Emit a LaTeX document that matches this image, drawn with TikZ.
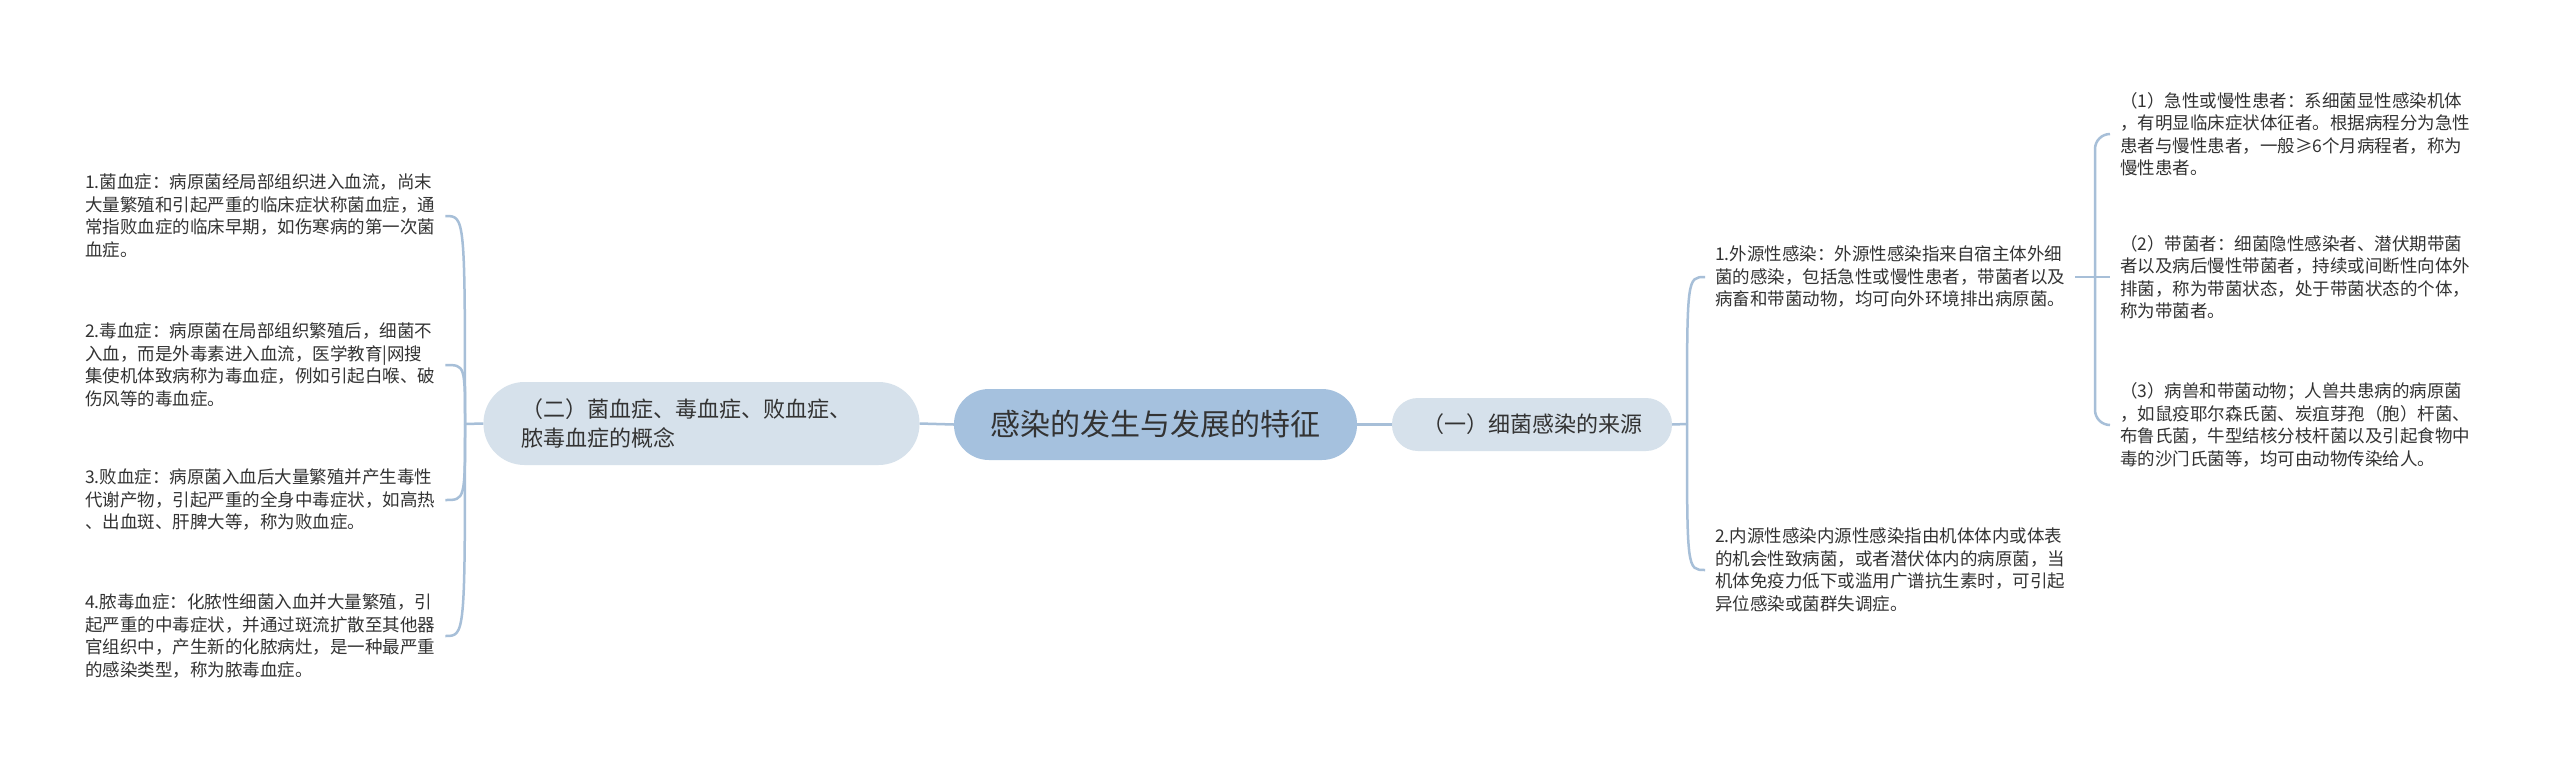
\documentclass[tikz,border=0pt]{standalone}
\usepackage{fontspec}
\newfontfamily\cjk{Noto Sans CJK SC}
\definecolor{linec}{HTML}{A7BFD8}
\definecolor{rootc}{HTML}{A5C1DE}
\definecolor{subc}{HTML}{D6E1EB}
\definecolor{txtc}{HTML}{333333}
\begin{document}
\begin{tikzpicture}[x=1pt,y=-1pt,
  rootbox/.style={rectangle, rounded corners=35pt, fill=rootc, minimum width=403pt, minimum height=71pt, text=txtc, font=\cjk\fontsize{30}{36}\selectfont, inner sep=0pt},
  lvone/.style={rectangle, fill=subc, text=txtc, font=\cjk\fontsize{22}{29}\selectfont, inner sep=0pt},
  leaf/.style={align=left, text=txtc, font=\cjk\fontsize{17.5}{22.5}\selectfont, inner xsep=10pt, inner ysep=0pt, anchor=west},
  conn/.style={draw=linec, line width=2.5pt}
]
\useasboundingbox (0,0) rectangle (2560,764);
\fill[white] (0,0) rectangle (2560,764);

\node[rootbox] (root) at (1155.5,424.5) {感染的发生与发展的特征};
\node[lvone, rounded corners=41pt, minimum width=436pt, minimum height=83pt, align=left, text width=360pt] (L) at (701.5,423.5) {（二）菌血症、毒血症、败血症、\\脓毒血症的概念};
\node[lvone, rounded corners=26pt, minimum width=280pt, minimum height=53pt] (R) at (1532,424.5) {（一）细菌感染的来源};

\node[leaf] (l1) at (75,216) {1.菌血症：病原菌经局部组织进入血流，尚末\\大量繁殖和引起严重的临床症状称菌血症，通\\常指败血症的临床早期，如伤寒病的第一次菌\\血症。};
\node[leaf] (l2) at (75,365) {2.毒血症：病原菌在局部组织繁殖后，细菌不\\入血，而是外毒素进入血流，医学教育|网搜\\集使机体致病称为毒血症，例如引起白喉、破\\伤风等的毒血症。};
\node[leaf] (l3) at (75,500) {3.败血症：病原菌入血后大量繁殖并产生毒性\\代谢产物，引起严重的全身中毒症状，如高热\\、出血斑、肝脾大等，称为败血症。};
\node[leaf] (l4) at (75,636) {4.脓毒血症：化脓性细菌入血并大量繁殖，引\\起严重的中毒症状，并通过斑流扩散至其他器\\官组织中，产生新的化脓病灶，是一种最严重\\的感染类型，称为脓毒血症。};

\node[leaf] (r1) at (1705,277) {1.外源性感染：外源性感染指来自宿主体外细\\菌的感染，包括急性或慢性患者，带菌者以及\\病畜和带菌动物，均可向外环境排出病原菌。};
\node[leaf] (r2) at (1705,570) {2.内源性感染内源性感染指由机体体内或体表\\的机会性致病菌，或者潜伏体内的病原菌，当\\机体免疫力低下或滥用广谱抗生素时，可引起\\异位感染或菌群失调症。};

\node[leaf] (s1) at (2110,134) {（1）急性或慢性患者：系细菌显性感染机体\\，有明显临床症状体征者。根据病程分为急性\\患者与慢性患者，一般≥6个月病程者，称为\\慢性患者。};
\node[leaf] (s2) at (2110,277) {（2）带菌者：细菌隐性感染者、潜伏期带菌\\者以及病后慢性带菌者，持续或间断性向体外\\排菌，称为带菌状态，处于带菌状态的个体，\\称为带菌者。};
\node[leaf] (s3) at (2110,425) {（3）病兽和带菌动物；人兽共患病的病原菌\\，如鼠疫耶尔森氏菌、炭疽芽孢（胞）杆菌、\\布鲁氏菌，牛型结核分枝杆菌以及引起食物中\\毒的沙门氏菌等，均可由动物传染给人。};

\draw[conn] (L.east) -- (root.west);
\draw[conn] (root.east) -- (R.west);

\coordinate (jl) at (465,424);
\draw[conn] (L.west) -- (jl);
\foreach \c in {l1,l2,l3,l4}
  \draw[conn] (jl) .. controls (jl |- \c.east) .. (\c.east);

\coordinate (jr) at (1687,424);
\draw[conn] (R.east) -- (jr);
\foreach \c in {r1,r2}
  \draw[conn] (jr) .. controls (jr |- \c.west) .. (\c.west);

\coordinate (jf) at (2095,277);
\draw[conn] (r1.east) -- (s2.west);
\draw[conn, rounded corners=15pt] (jf) |- (s1.west);
\draw[conn, rounded corners=15pt] (jf) |- (s3.west);
\end{tikzpicture}
\end{document}
